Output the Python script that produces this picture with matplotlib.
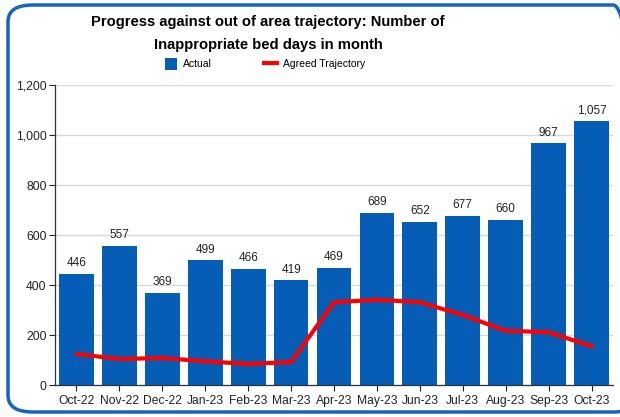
import matplotlib.pyplot as plt
from matplotlib.patches import FancyBboxPatch
from matplotlib.lines import Line2D
from matplotlib.patches import Patch

plt.rcParams['font.family'] = ['Liberation Sans', 'DejaVu Sans']

months = ['Oct-22', 'Nov-22', 'Dec-22', 'Jan-23', 'Feb-23', 'Mar-23', 'Apr-23',
          'May-23', 'Jun-23', 'Jul-23', 'Aug-23', 'Sep-23', 'Oct-23']
actual = [446, 557, 369, 499, 466, 419, 469, 689, 652, 677, 660, 967, 1057]
trajectory = [124, 104, 108, 95, 84, 92, 331, 341, 331, 280, 217, 211, 155]

bar_blue = '#055DB5'
line_red = '#FF0000'

fig = plt.figure(figsize=(6.2, 4.17), dpi=100)
ax = fig.add_axes([55 / 620, 32 / 417, 558 / 620, 300 / 417])

x = range(len(months))
ax.bar(x, actual, width=0.81, color=bar_blue, zorder=2)
ax.plot(x, trajectory, color=line_red, lw=3, zorder=3, solid_joinstyle='round')

for xi, v in zip(x, actual):
    ax.text(xi, v + 18, f'{v:,}', ha='center', va='bottom', fontsize=8.5, color='#222222')

ax.set_xlim(-0.5, len(months) - 0.5)
ax.set_ylim(0, 1200)
ax.set_yticks(range(0, 1201, 200))
ax.set_yticklabels([f'{t:,}' for t in range(0, 1201, 200)])
ax.set_xticks(list(x))
ax.set_xticklabels(months)
ax.tick_params(axis='both', labelsize=8.7, colors='#222222', length=4, width=0.8)
ax.tick_params(axis='y', pad=2)
ax.yaxis.grid(True, color='#D9D9D9', lw=1, zorder=0)
ax.set_axisbelow(True)
for s in ['top', 'right']:
    ax.spines[s].set_visible(False)
for s in ['left', 'bottom']:
    ax.spines[s].set_color('#333333')
    ax.spines[s].set_linewidth(0.9)

# two-line bold title
fig.text(268 / 620, 1 - 22 / 417, 'Progress against out of area trajectory: Number of',
         ha='center', va='center', fontsize=10.6, fontweight='bold')
fig.text(268 / 620, 1 - 45 / 417, 'Inappropriate bed days in month',
         ha='center', va='center', fontsize=10.6, fontweight='bold')

handles = [Patch(facecolor=bar_blue, label='Actual'),
           Line2D([0], [0], color=line_red, lw=3, label='Agreed Trajectory')]
fig.legend(handles=handles, loc='center', bbox_to_anchor=(265 / 620, 1 - 64 / 417), ncol=2,
           frameon=False, fontsize=7.5, handlelength=1.2, handleheight=1.4,
           columnspacing=5.0, handletextpad=0.6, borderpad=0)

frame = FancyBboxPatch((8 / 620, 5 / 417), 630 / 620, 407 / 417,
                       boxstyle='round,pad=0,rounding_size=0.04',
                       transform=fig.transFigure, fill=False,
                       edgecolor='#1565C0', lw=2.5, clip_on=False)
fig.patches.append(frame)

fig.savefig('out.png', dpi=100)
